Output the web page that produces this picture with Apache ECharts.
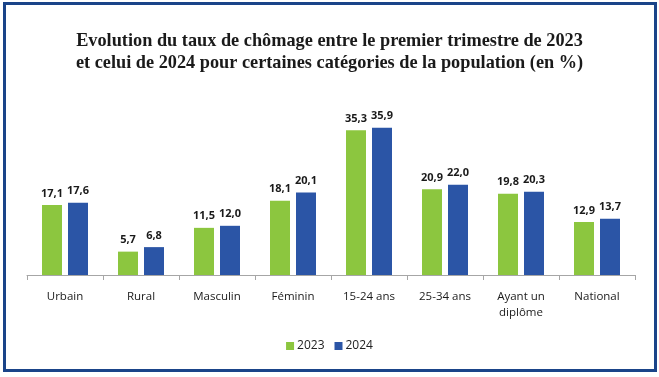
<!DOCTYPE html>
<html>
<head>
<meta charset="utf-8">
<script src="https://cdn.jsdelivr.net/npm/echarts@6/dist/echarts.min.js"></script>
<style>
  html, body { margin: 0; padding: 0; background: #fff; }
  #frame {
    position: absolute; left: 3px; top: 2px;
    width: 648px; height: 364px;
    border: 3px solid #1a4489;
  }
  #chart { position: absolute; left: 0; top: 0; width: 659px; height: 377px; }
</style>
</head>
<body>
<div id="frame"></div>
<div id="chart"></div>
<script>
// categories and values (in %)
const categories = ['Urbain', 'Rural', 'Masculin', 'Féminin', '15-24 ans', '25-34 ans', 'Ayant un\ndiplôme', 'National'];
const values2023 = [17.1, 5.7, 11.5, 18.1, 35.3, 20.9, 19.8, 12.9];
const values2024 = [17.6, 6.8, 12.0, 20.1, 35.9, 22.0, 20.3, 13.7];
const seriesNames = ['2023', '2024'];

const fmt = p => p.value.toFixed(1).replace('.', ',');

const labelStyle = {
    show: true,
    position: 'top',
    distance: 6,
    color: '#1a1a1a',
    fontWeight: 'bold',
    fontSize: 11,
    fontFamily: 'Open Sans',
    formatter: fmt
};

const chart = echarts.init(document.getElementById('chart'));
chart.setOption({
    animation: false,
    title: {
        text: 'Evolution du taux de chômage entre le premier trimestre de 2023\net celui de 2024 pour certaines catégories de la population (en %)',
        left: 'center',
        top: 25,
        textStyle: {
            fontFamily: 'Liberation Serif',
            fontWeight: 'bold',
            fontSize: 18.3,
            lineHeight: 22,
            color: '#1a1a1a'
        }
    },
    legend: {
        data: seriesNames,
        bottom: 20,
        left: 'center',
        itemWidth: 8,
        itemHeight: 8,
        itemGap: 10,
        icon: 'rect',
        textStyle: { fontFamily: 'Open Sans', fontSize: 12, color: '#222', padding: [0, 0, 0, -2] }
    },
    grid: { left: 27, right: 24, top: 111, bottom: 102 },
    xAxis: {
        type: 'category',
        data: categories,
        axisLine: { lineStyle: { color: '#a6a6a6' } },
        axisTick: { show: true, length: 5, lineStyle: { color: '#a6a6a6' } },
        axisLabel: {
            color: '#1a1a1a',
            fontFamily: 'Open Sans',
            fontSize: 11.5,
            margin: 14,
            lineHeight: 16,
            interval: 0
        }
    },
    yAxis: {
        type: 'value',
        min: 0,
        max: 40,
        show: false,
        splitLine: { show: false }
    },
    series: [
        {
            name: seriesNames[0],
            type: 'bar',
            data: values2023,
            barWidth: 20,
            barGap: '30%',
            itemStyle: { color: '#8cc63f' },
            label: labelStyle
        },
        {
            name: seriesNames[1],
            type: 'bar',
            data: values2024,
            barWidth: 20,
            itemStyle: { color: '#2b55a6' },
            label: labelStyle
        }
    ]
});
</script>
</body>
</html>
